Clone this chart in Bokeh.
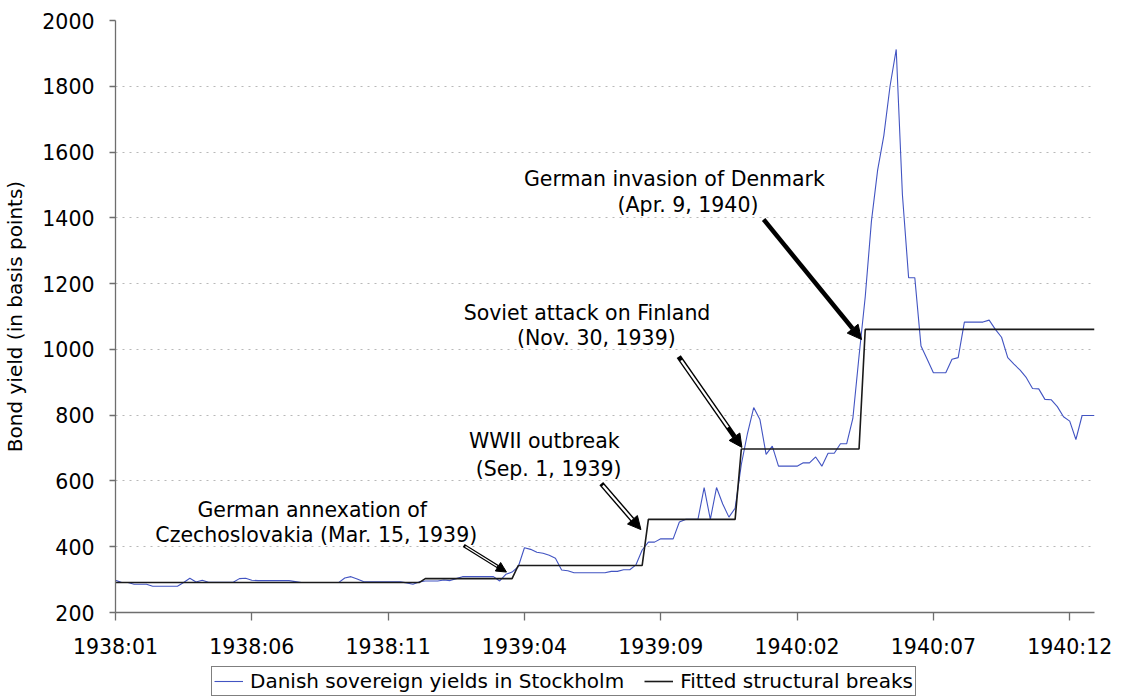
from bokeh.plotting import figure
from bokeh.layouts import column
from bokeh.models import (Range1d, FixedTicker, Legend, LegendItem, Arrow,
                          NormalHead, Label)
from bokeh.embed import file_html
from bokeh.resources import INLINE

# ---------------- data ----------------
# Weekly Danish sovereign bond yields quoted in Stockholm (basis points),
# first week of Jan 1938 to last week of Dec 1940
yields_bp = [
    298, 291, 291, 286, 286, 286, 280, 280, 280, 280,
    280, 291, 304, 293, 298, 292, 292, 292, 292, 292,
    303, 304, 298, 297, 297, 297, 297, 297, 297, 294,
    291, 291, 291, 291, 291, 291, 291, 305, 309, 302,
    294, 293, 293, 293, 293, 293, 293, 290, 286, 293,
    296, 296, 296, 299, 297, 303, 309, 309, 309, 309,
    309, 309, 296, 316, 323, 339, 397, 392, 383, 380,
    374, 365, 329, 327, 321, 321, 321, 321, 321, 321,
    325, 325, 330, 330, 345, 390, 414, 414, 424, 424,
    424, 475, 483, 483, 483, 580, 483, 580, 530, 490,
    517, 650, 745, 823, 787, 681, 706, 645, 645, 645,
    645, 655, 655, 673, 645, 684, 684, 713, 713, 790,
    980, 1160, 1390, 1545, 1650, 1800, 1912, 1470, 1218, 1218,
    1010, 970, 929, 929, 929, 970, 975, 1083, 1083, 1083,
    1083, 1089, 1061, 1037, 975, 955, 937, 914, 881, 880,
    848, 847, 826, 795, 782, 726, 799, 799, 799,
]

# Fitted structural breaks: week at which each regime starts and its level
break_weeks = [0, 50, 65, 86, 101, 121]
break_levels = [291, 303, 343, 483, 697, 1061]

series_names = ["Danish sovereign yields in Stockholm", "Fitted structural breaks"]

# category labels shown every 22 weekly observations
tick_labels = ["1938:01", "1938:06", "1938:11", "1939:04",
               "1939:09", "1940:02", "1940:07", "1940:12"]
label_every = 22
y_ticks = [200, 400, 600, 800, 1000, 1200, 1400, 1600, 1800, 2000]

# event annotations (text lines, their anchor positions and arrow end points, in data units)
events = [
    dict(lines=["German annexation of", "Czechoslovakia (Mar. 15, 1939)"],
         tx=[31.75, 32.4], ty=[513, 435], arrow=(56.2, 404, 63.1, 323), style="hollow_small"),
    dict(lines=["WWII outbreak", "(Sep. 1, 1939)"],
         tx=[69.2, 69.9], ty=[720, 635], arrow=(78.4, 592, 84.8, 452), style="hollow"),
    dict(lines=["Soviet attack on Finland", "(Nov. 30, 1939)"],
         tx=[76.1, 77.6], ty=[1111, 1035], arrow=(90.9, 978, 101.1, 702), style="hollow"),
    dict(lines=["German invasion of Denmark", "(Apr. 9, 1940)"],
         tx=[90.2, 92.4], ty=[1517, 1440], arrow=(104.6, 1395, 120.4, 1030), style="solid"),
]

# ---------------- derived ----------------
N = len(yields_bp)
weeks = list(range(N))
fitted = []
for i, start in enumerate(break_weeks):
    end = break_weeks[i + 1] if i + 1 < len(break_weeks) else N
    fitted += [break_levels[i]] * (end - start)
tick_pos = list(range(0, N, label_every))[:len(tick_labels)]

FONT = "DejaVu Sans"
FS = "20.5px"
BLUE = "#4254c2"
BLACK = "#1a1a1a"
AXIS = "#6e6e6e"
W = 1115

p = figure(width=W, height=664, output_backend="svg", toolbar_location=None,
           x_range=Range1d(0, N - 1), y_range=Range1d(200, 2000),
           min_border_left=108, min_border_right=21, min_border_top=20,
           min_border_bottom=52)
p.outline_line_color = None
p.background_fill_color = "white"
p.border_fill_color = "white"

p.xgrid.grid_line_color = None
p.ygrid.grid_line_color = "#b8b8b8"
p.ygrid.grid_line_dash = "2 5"
p.ygrid.grid_line_width = 1

p.xaxis.ticker = FixedTicker(ticks=tick_pos)
p.xaxis.major_label_overrides = {t: l for t, l in zip(tick_pos, tick_labels)}
p.yaxis.ticker = FixedTicker(ticks=y_ticks)

for ax in (p.xaxis[0], p.yaxis[0]):
    ax.axis_line_color = AXIS
    ax.axis_line_width = 1.3
    ax.major_tick_line_color = AXIS
    ax.major_tick_line_width = 1.3
    ax.minor_tick_line_color = None
    ax.major_tick_in = 0
    ax.major_label_text_font = FONT
    ax.major_label_text_font_size = FS
    ax.major_label_text_color = "black"

p.xaxis.major_tick_out = 8
p.xaxis.major_label_standoff = 14
p.yaxis.major_tick_out = 6
p.yaxis.major_label_standoff = 15
p.yaxis.axis_label = "Bond yield (in basis points)"
p.yaxis.axis_label_text_font = FONT
p.yaxis.axis_label_text_font_size = "20px"
p.yaxis.axis_label_text_font_style = "normal"
p.yaxis.axis_label_text_color = "black"
p.yaxis.axis_label_standoff = 12

r_blue = p.line(weeks, yields_bp, line_color=BLUE, line_width=1.1)
r_fit = p.line(weeks, fitted, line_color=BLACK, line_width=1.6)

for ev in events:
    for txt, x, y in zip(ev["lines"], ev["tx"], ev["ty"]):
        p.add_layout(Label(x=x, y=y, text=txt, text_font=FONT, text_font_size=FS,
                           text_color="black", text_align="center",
                           text_baseline="alphabetic"))
    x0, y0, x1, y1 = ev["arrow"]
    style = ev["style"]
    if style == "solid":
        lw, head = 4.5, 14
    elif style == "hollow":
        lw, head = 5, 13
    else:
        lw, head = 3.6, 10
    p.add_layout(Arrow(x_start=x0, y_start=y0, x_end=x1, y_end=y1,
                       line_color="black", line_width=lw,
                       end=NormalHead(size=head, fill_color="black",
                                      line_color="black", line_width=1)))
    if style != "solid":
        f0, f1 = 0.04, 0.78
        p.add_layout(Arrow(x_start=x0 + f0 * (x1 - x0), y_start=y0 + f0 * (y1 - y0),
                           x_end=x0 + f1 * (x1 - x0), y_end=y0 + f1 * (y1 - y0),
                           line_color="white", line_width=lw - 2.8 if style == "hollow" else 1.2,
                           end=None))

# ---------------- legend strip below the chart ----------------
lg = figure(width=W, height=32, output_backend="svg", toolbar_location=None,
            x_axis_type=None, y_axis_type=None,
            x_range=Range1d(0, 1), y_range=Range1d(0, 1),
            min_border_left=0, min_border_right=0, min_border_top=0, min_border_bottom=0)
lg.outline_line_color = None
lg.xgrid.grid_line_color = None
lg.ygrid.grid_line_color = None
# legend swatches only: these copies lie outside the strip's visible range
s_blue = lg.line([5, 6], [5, 6], line_color=BLUE, line_width=1.1)
s_fit = lg.line([5, 6], [5, 6], line_color=BLACK, line_width=1.6)
legend = Legend(items=[LegendItem(label=series_names[0], renderers=[s_blue]),
                       LegendItem(label=series_names[1], renderers=[s_fit])],
                orientation="horizontal", location=(96, 0),
                border_line_color="black", border_line_width=1,
                background_fill_color="white", background_fill_alpha=1,
                label_text_font=FONT, label_text_font_size="20px",
                label_text_color="black",
                glyph_width=29, glyph_height=20, label_height=20,
                label_standoff=7, spacing=20, padding=2, margin=0)
lg.add_layout(legend, "center")

layout = column(p, lg, spacing=0)
open("out.html", "w").write(file_html(layout, INLINE))
